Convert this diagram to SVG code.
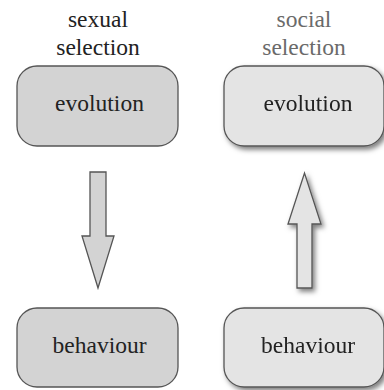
<svg xmlns="http://www.w3.org/2000/svg" width="384" height="390" viewBox="0 0 384 390">
  <defs>
    <filter id="shadow" x="-20%" y="-20%" width="150%" height="150%">
      <feDropShadow dx="2.5" dy="3" stdDeviation="2.5" flood-color="#000" flood-opacity="0.5"/>
    </filter>
  </defs>
  <style>
    .t { font-family: 'Liberation Serif', 'Times New Roman', serif; font-size: 23.5px; text-anchor: middle; fill: #222; }
    .title2 { fill: #6a6a6a; }
    .boxL { fill: #d3d3d3; stroke: #555; stroke-width: 1.3; }
    .boxR { fill: #e4e4e4; stroke: #555; stroke-width: 1.3; }
    .arrL { fill: #d3d3d3; stroke: #555; stroke-width: 1.3; stroke-linejoin: miter; }
    .arrR { fill: #e4e4e4; stroke: #555; stroke-width: 1.3; stroke-linejoin: miter; }
  </style>
  <rect width="384" height="390" fill="#fff"/>

  <g id="title-left">
    <text class="t" x="98" y="27">sexual</text>
    <text class="t" x="98" y="55">selection</text>
  </g>
  <g id="title-right">
    <text class="t title2" x="304" y="27">social</text>
    <text class="t title2" x="304" y="55">selection</text>
  </g>

  <g id="evolution-left">
    <rect class="boxL" x="17" y="66" width="161" height="80" rx="20" ry="20"/>
    <text class="t" x="99.5" y="111">evolution</text>
  </g>
  <g id="behaviour-left">
    <rect class="boxL" x="17" y="308" width="161" height="79" rx="20" ry="20"/>
    <text class="t" x="99.5" y="353">behaviour</text>
  </g>

  <g id="evolution-right" filter="url(#shadow)">
    <rect class="boxR" x="224" y="66" width="160" height="80" rx="20" ry="20"/>
    <text class="t" x="308" y="111">evolution</text>
  </g>
  <g id="behaviour-right" filter="url(#shadow)">
    <rect class="boxR" x="224" y="308" width="160" height="79" rx="20" ry="20"/>
    <text class="t" x="308" y="353">behaviour</text>
  </g>

  <g id="connectors">
    <polygon class="arrL" points="90,172 106,172 106,236 114,236 98,288 82,236 90,236"/>
    <polygon class="arrR" filter="url(#shadow)" points="297,288 312,288 312,224 321,224 304.5,173 288,224 297,224"/>
  </g>
</svg>
